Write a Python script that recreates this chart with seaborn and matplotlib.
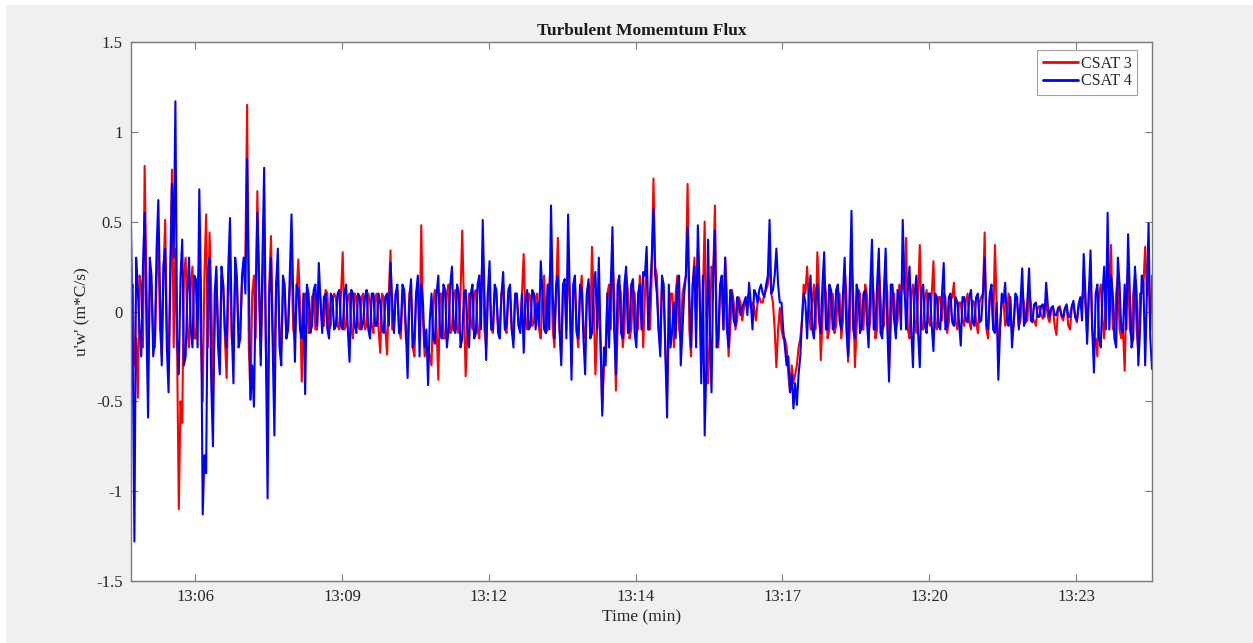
import numpy as np
import pandas as pd
import matplotlib
matplotlib.use("Agg")
import matplotlib.pyplot as plt
from matplotlib.patches import Rectangle
from matplotlib.lines import Line2D
import seaborn as sns

# ---------------- data ----------------
t_start, t_end = 4.8, 23.92          # minutes after 13:00
tick_pos = [6.0, 8.75, 11.5, 14.25, 17.0, 19.75, 22.5]
tick_labels = ["13:06", "13:09", "13:12", "13:14", "13:17", "13:20", "13:23"]
series_names = ["CSAT 3", "CSAT 4"]

# main samples (peaks / troughs)
csat3 = [
    0.10, -0.30, -0.48, 0.15, 0.81, -0.35, 0.15, -0.20, 0.40, -0.25, 0.51, -0.30, 0.79, 0.35, -1.10, -0.62, 0.30, -0.20, 0.25, -0.15,
    0.30, -0.50, 0.54, 0.44, -0.46, 0.20, -0.25, 0.15, -0.37, 0.30, -0.20, 0.15, -0.10, 0.25, 1.15, -0.49, 0.20, 0.67, -0.25, 0.50,
    -0.60, 0.42, -0.30, 0.20, -0.20, 0.12, -0.08, 0.30, -0.15, 0.29, -0.39, 0.10, -0.12, 0.08, -0.10, 0.15, -0.08, 0.12, -0.10, 0.05,
    0.08, -0.10, 0.33, -0.08, 0.10, -0.15, 0.08, -0.10, 0.10, -0.08, 0.06, -0.12, 0.10, -0.23, 0.08, -0.24, 0.34, -0.10, 0.12, -0.15,
    0.10, -0.20, 0.15, -0.25, 0.15, 0.48, -0.25, -0.20, -0.30, 0.12, -0.38, 0.10, -0.15, 0.15, -0.10, 0.12, -0.12, 0.45, -0.36, 0.10,
    -0.10, 0.12, -0.15, 0.35, -0.20, 0.15, -0.12, 0.10, -0.10, 0.15, -0.12, 0.10, -0.15, 0.08, -0.08, 0.32, -0.10, 0.08, -0.06, 0.10,
    -0.15, 0.20, -0.10, 0.30, -0.20, 0.41, -0.25, 0.15, 0.30, -0.30, 0.15, -0.20, 0.20, -0.15, 0.15, 0.36, -0.35, 0.10, -0.55, -0.20,
    0.15, 0.30, -0.44, 0.15, -0.20, 0.20, -0.15, 0.12, -0.10, 0.20, -0.20, 0.30, -0.10, 0.74, 0.20, -0.20, 0.10, -0.45, 0.10, -0.20,
    0.20, -0.15, 0.15, 0.71, -0.25, 0.30, 0.35, -0.30, 0.50, -0.40, 0.25, 0.59, -0.20, 0.15, 0.30, -0.25, 0.12, -0.10, 0.08, -0.05,
    0.05, 0.10, 0.05, -0.05, 0.08, 0.05, 0.12, 0.30, 0.05, -0.31, 0.02, -0.15, -0.20, -0.45, -0.40, -0.30, -0.15, 0.15, 0.25, -0.10,
    0.15, 0.33, -0.27, 0.20, -0.15, 0.10, -0.12, 0.10, -0.15, 0.24, -0.28, 0.30, -0.31, 0.12, -0.10, 0.15, -0.12, 0.20, -0.15, 0.25,
    -0.10, 0.20, -0.32, 0.10, -0.10, 0.15, 0.20, 0.41, -0.15, 0.15, -0.12, 0.37, -0.10, 0.12, -0.08, 0.28, -0.10, 0.08, 0.10, -0.12,
    0.06, 0.16, -0.10, 0.05, -0.08, 0.10, -0.10, 0.05, -0.12, 0.08, 0.44, -0.15, 0.10, 0.37, -0.20, 0.05, -0.08, 0.10, -0.12, 0.08,
    -0.08, 0.10, -0.06, 0.12, -0.04, -0.08, 0.03, -0.04, 0.05, -0.06, 0.02, -0.13, 0.03, -0.05, 0.02, -0.10, 0.04, -0.06, 0.05, 0.15,
    -0.12, 0.20, -0.20, -0.25, 0.15, -0.15, 0.30, 0.37, -0.10, 0.20, -0.15, -0.33, 0.25, -0.15, 0.20, -0.23, 0.10, 0.36, 0.20, 0.20,
]
# in-between samples (the dense band around zero)
csat3_mid = [
    0.15, -0.15, 0.20, -0.20, 0.20, 0.10, -0.15, 0.20, -0.10, 0.20, -0.10, 0.25, -0.20, -0.20, -0.50, 0.20, -0.10, 0.15, -0.15, 0.10,
    -0.15, 0.20, -0.20, 0.10, -0.10, -0.10, 0.20, -0.15, 0.10, -0.15, 0.20, -0.10, 0.15, 0.30, -0.20, 0.10, -0.15, 0.10, 0.15, -0.20,
    0.15, -0.10, 0.15, -0.10, 0.10, -0.15, 0.12, -0.10, 0.10, 0.05, -0.10, 0.10, -0.08, 0.10, -0.10, 0.08, -0.08, 0.10, -0.08, 0.10,
    -0.08, 0.10, -0.10, 0.08, -0.10, 0.10, -0.08, 0.08, -0.10, 0.10, -0.08, 0.08, -0.10, 0.10, -0.10, 0.10, -0.10, 0.10, -0.10, 0.08,
    -0.15, 0.10, -0.20, 0.10, -0.15, -0.05, -0.20, -0.25, 0.05, -0.10, 0.10, -0.15, 0.10, -0.12, 0.10, -0.10, 0.10, 0.05, -0.10, -0.05,
    0.10, -0.10, 0.10, -0.10, 0.10, -0.10, 0.10, -0.08, 0.10, -0.10, 0.08, -0.10, 0.10, -0.08, 0.10, -0.05, 0.10, -0.08, 0.08, -0.10,
    0.10, -0.12, 0.15, -0.10, 0.10, -0.10, 0.12, -0.10, 0.05, 0.10, -0.10, 0.10, -0.10, 0.10, -0.10, 0.05, -0.10, -0.20, -0.30, 0.10,
    -0.10, 0.10, -0.10, 0.10, -0.10, 0.12, -0.10, 0.10, -0.10, 0.10, 0.10, -0.10, 0.20, 0.25, -0.10, 0.15, -0.20, -0.10, 0.10, 0.10,
    -0.10, 0.10, 0.20, -0.10, 0.15, -0.10, 0.10, 0.10, -0.15, -0.10, 0.20, -0.10, 0.10, -0.10, 0.10, -0.10, 0.05, -0.05, 0.05, 0.02,
    0.08, 0.02, 0.02, 0.05, 0.05, 0.10, 0.15, 0.10, -0.10, -0.10, -0.10, -0.15, -0.35, -0.30, -0.35, -0.20, -0.05, 0.10, 0.05, 0.05,
    -0.10, 0.10, -0.05, 0.10, -0.10, 0.10, -0.08, 0.10, -0.05, 0.10, -0.10, 0.10, -0.10, 0.10, -0.10, 0.10, -0.05, 0.10, -0.10, 0.08,
    -0.08, 0.10, -0.10, 0.10, -0.05, 0.10, 0.10, -0.10, 0.10, -0.05, 0.10, -0.10, 0.08, -0.05, 0.10, -0.08, 0.08, -0.05, 0.08, -0.06,
    0.08, -0.06, 0.05, -0.05, 0.06, -0.06, 0.06, -0.06, 0.05, 0.10, -0.10, 0.08, -0.10, 0.05, -0.08, 0.06, -0.05, 0.06, -0.08, 0.05,
    -0.05, 0.05, -0.05, 0.05, -0.05, 0.02, -0.02, 0.02, -0.03, 0.02, -0.08, 0.02, -0.03, 0.02, -0.08, 0.02, -0.03, 0.02, 0.05, 0.03,
    0.10, -0.10, -0.15, 0.10, -0.05, 0.10, 0.15, -0.10, 0.10, -0.10, -0.10, 0.10, -0.10, 0.10, -0.10, 0.10, 0.15, 0.10, -0.10,
]

csat4 = [
    0.48, -1.28, 0.12, -0.25, 0.55, -0.59, 0.20, -0.15, 0.62, -0.30, 0.35, -0.45, 0.71, 1.17, -0.35, 0.40, -0.25, 0.30, -0.20, 0.18,
    0.68, -1.13, -0.90, 0.30, -0.75, 0.25, -0.35, 0.15, -0.20, 0.52, -0.40, 0.20, -0.15, 0.30, 0.85, -0.49, -0.53, 0.55, -0.30, 0.80,
    -1.04, 0.30, -0.69, 0.35, -0.30, 0.15, -0.10, 0.54, -0.28, 0.12, -0.15, -0.46, 0.10, -0.08, 0.15, 0.27, -0.12, 0.10, -0.15, 0.08,
    -0.08, 0.12, -0.10, 0.15, -0.28, 0.10, -0.12, 0.08, -0.06, 0.12, -0.15, 0.10, -0.08, 0.05, -0.12, 0.10, 0.27, -0.12, 0.15, -0.10,
    0.12, -0.37, 0.18, -0.15, 0.20, 0.15, -0.20, -0.41, 0.10, -0.18, 0.20, -0.15, 0.12, -0.10, 0.25, -0.12, 0.10, -0.15, 0.12, -0.20,
    0.15, -0.12, 0.20, 0.51, -0.27, 0.28, -0.10, 0.12, -0.15, 0.22, -0.08, 0.15, -0.20, 0.10, -0.12, -0.23, 0.12, -0.08, 0.10, 0.05,
    0.28, -0.10, 0.15, 0.59, -0.15, 0.20, -0.30, 0.18, 0.54, -0.38, 0.20, -0.15, 0.12, -0.35, 0.18, -0.12, 0.22, 0.30, -0.58, -0.30,
    -0.20, 0.47, -0.35, 0.20, -0.15, 0.25, -0.10, 0.18, -0.20, 0.15, 0.22, 0.36, 0.10, 0.57, 0.10, -0.25, 0.15, -0.59, -0.20, 0.05,
    0.15, -0.30, 0.10, 0.47, -0.20, 0.25, 0.48, -0.40, -0.69, 0.40, -0.45, 0.45, -0.15, 0.20, 0.30, -0.20, 0.10, -0.08, 0.05, 0.02,
    0.08, 0.16, -0.10, 0.10, 0.12, 0.10, 0.15, 0.51, 0.12, 0.35, 0.05, -0.10, -0.30, -0.45, -0.54, -0.52, -0.25, 0.10, -0.15, 0.20,
    -0.15, 0.15, -0.12, 0.33, -0.10, 0.12, -0.08, 0.15, -0.10, 0.30, -0.25, 0.56, -0.15, 0.10, -0.08, 0.12, -0.20, 0.40, -0.10, 0.35,
    -0.15, 0.35, -0.39, 0.15, -0.15, 0.10, 0.51, -0.10, 0.25, -0.31, 0.20, -0.31, 0.15, -0.12, 0.10, -0.22, 0.08, -0.10, 0.27, -0.08,
    0.10, -0.08, 0.05, -0.19, 0.08, -0.06, 0.12, -0.08, 0.10, -0.05, 0.30, -0.10, 0.15, -0.12, -0.38, 0.10, 0.16, -0.08, -0.20, 0.10,
    -0.10, 0.24, -0.05, 0.24, -0.06, 0.05, -0.03, 0.04, 0.16, -0.03, 0.03, -0.02, 0.02, -0.03, 0.04, -0.03, 0.06, -0.05, 0.08, 0.32,
    -0.18, 0.34, -0.34, 0.15, -0.20, 0.25, 0.55, 0.20, -0.15, 0.30, -0.10, 0.15, 0.43, -0.20, 0.25, -0.30, 0.20, -0.30, 0.49, -0.32,
]
csat4_mid = [
    -0.20, 0.30, -0.10, 0.25, -0.05, 0.30, -0.25, 0.35, 0.10, 0.25, -0.20, 0.15, 0.30, -0.15, 0.20, -0.30, 0.10, -0.10, 0.20, -0.20,
    0.10, -0.80, 0.20, -0.40, 0.10, -0.20, 0.25, -0.10, 0.25, -0.10, 0.30, -0.20, 0.20, 0.10, 0.20, -0.30, 0.10, 0.20, 0.30, -0.20,
    0.10, -0.20, 0.15, -0.20, 0.20, -0.15, 0.20, 0.10, 0.15, -0.10, 0.10, 0.15, -0.12, 0.12, -0.08, 0.05, 0.08, -0.10, 0.10, -0.10,
    0.10, -0.08, 0.10, -0.10, 0.12, -0.08, 0.10, -0.10, 0.08, -0.10, 0.10, -0.08, 0.10, -0.10, 0.08, -0.08, 0.05, 0.10, -0.12, 0.15,
    -0.10, 0.05, -0.20, 0.10, -0.25, 0.05, -0.10, -0.05, -0.15, 0.10, -0.12, 0.15, -0.20, 0.15, -0.10, 0.15, -0.20, 0.10, -0.10, 0.10,
    -0.15, 0.15, -0.10, 0.10, 0.10, -0.10, 0.15, -0.12, 0.10, -0.10, 0.12, -0.10, 0.10, -0.08, 0.10, 0.05, -0.10, 0.12, -0.10, -0.08,
    0.10, -0.12, -0.10, 0.10, 0.15, -0.10, 0.15, -0.15, 0.10, 0.15, -0.12, 0.15, -0.15, 0.10, -0.15, 0.15, -0.10, -0.15, -0.20, 0.10,
    0.15, -0.10, 0.15, -0.12, 0.15, -0.12, 0.15, -0.12, 0.10, -0.10, 0.20, -0.10, 0.30, 0.20, -0.10, 0.20, -0.25, 0.15, -0.10, -0.15,
    0.20, -0.10, 0.20, 0.10, 0.15, -0.20, 0.15, 0.20, -0.30, -0.10, 0.20, -0.20, 0.15, -0.10, -0.10, 0.12, -0.05, 0.08, -0.02, 0.05,
    -0.02, 0.05, 0.12, 0.05, 0.15, 0.08, 0.20, 0.10, 0.20, 0.15, 0.05, -0.20, -0.25, -0.35, -0.40, -0.35, -0.05, 0.05, 0.10, -0.10,
    0.10, -0.05, 0.15, -0.10, 0.15, -0.10, 0.12, -0.05, 0.10, -0.10, 0.15, -0.10, 0.15, -0.12, 0.10, -0.05, 0.15, -0.10, 0.15, -0.12,
    0.12, -0.10, 0.15, -0.05, 0.12, -0.10, 0.15, 0.12, -0.10, 0.10, -0.12, 0.12, -0.08, 0.10, -0.08, 0.10, -0.08, 0.10, -0.10, 0.08,
    -0.06, 0.08, -0.06, 0.08, -0.05, 0.08, -0.06, 0.08, -0.06, 0.10, -0.08, 0.10, -0.10, 0.05, -0.10, 0.05, -0.05, 0.08, -0.06, 0.08,
    0.06, -0.08, 0.06, -0.05, 0.04, -0.03, 0.03, -0.03, 0.03, 0.02, -0.02, 0.02, -0.02, 0.02, -0.03, 0.03, -0.03, 0.04, -0.05, 0.10,
    0.10, -0.10, 0.10, -0.15, 0.10, -0.10, -0.10, 0.10, -0.20, 0.15, -0.12, -0.10, 0.10, -0.15, 0.10, -0.10, 0.15, 0.10, -0.15,
]

colors = ["#ff0000", "#0000ff"]

# ---------------- build long table ----------------
n = len(csat3)
t_main = np.linspace(t_start, t_end, n)
t_mid = (t_main[:-1] + t_main[1:]) / 2


def interleave(main, mid):
    tt = np.empty(2 * n - 1)
    vv = np.empty(2 * n - 1)
    tt[0::2], tt[1::2] = t_main, t_mid
    vv[0::2], vv[1::2] = main, mid
    return tt, vv


t3, v3 = interleave(csat3, csat3_mid)
t4, v4 = interleave(csat4, csat4_mid)
df = pd.concat([
    pd.DataFrame({"t": t3, "v": v3, "sensor": series_names[0]}),
    pd.DataFrame({"t": t4, "v": v4, "sensor": series_names[1]}),
], ignore_index=True)

# ---------------- figure ----------------
sns.set_theme(style="white")
plt.rcParams["font.family"] = ["Liberation Serif", "DejaVu Serif"]

fig = plt.figure(figsize=(12.53, 6.43), dpi=100, facecolor="#f0f0f0")
fig.patches.append(Rectangle((0, 0), 6 / 1253, 1, transform=fig.transFigure,
                             facecolor="white", edgecolor="none", zorder=-1))
fig.patches.append(Rectangle((0, 1 - 5 / 643), 1, 5 / 643, transform=fig.transFigure,
                             facecolor="white", edgecolor="none", zorder=-1))

ax = fig.add_axes([131 / 1253, 62 / 643, (1152 - 131) / 1253, (581 - 42) / 643])
ax.set_facecolor("white")

sns.lineplot(data=df, x="t", y="v", hue="sensor", hue_order=series_names,
             palette=colors, estimator=None, sort=False, linewidth=1.5,
             legend=False, ax=ax)

ax.set_xlim(t_start, t_end)
ax.set_ylim(-1.5, 1.5)
ax.set_xticks(tick_pos)
ax.set_xticklabels(tick_labels)
ax.set_yticks([-1.5, -1, -0.5, 0, 0.5, 1, 1.5])
ax.set_yticklabels(["-1.5", "-1", "-0.5", "0", "0.5", "1", "1.5"])

for s in ax.spines.values():
    s.set_visible(True)
    s.set_color("#7a7a7a")
    s.set_linewidth(1.0)
ax.tick_params(direction="in", length=5, width=0.8, color="#7a7a7a",
               labelsize=12, labelcolor="#262626", top=True, right=True,
               bottom=True, left=True, pad=6)

ax.set_title("Turbulent Momemtum Flux", fontsize=12.5, fontweight="bold",
             color="#1a1a1a", pad=5)
ax.set_xlabel("Time (min)", fontsize=12.5, color="#262626", labelpad=3)
ax.set_ylabel("u'w' (m*C/s)", fontsize=12.5, color="#262626", labelpad=4)

handles = [Line2D([0], [0], color=c, lw=2) for c in colors]
leg = ax.legend(handles, series_names, loc="upper right", fontsize=11.5,
                frameon=True, fancybox=False, borderpad=0.35, handlelength=2.2,
                handletextpad=0.15, labelspacing=0.1, borderaxespad=0.3,
                bbox_to_anchor=(0.990, 0.994))
leg.get_frame().set_edgecolor("#8a8a8a")
leg.get_frame().set_linewidth(0.8)
for txt in leg.get_texts():
    txt.set_color("#262626")

fig.savefig("out.png", dpi=100, facecolor=fig.get_facecolor())
